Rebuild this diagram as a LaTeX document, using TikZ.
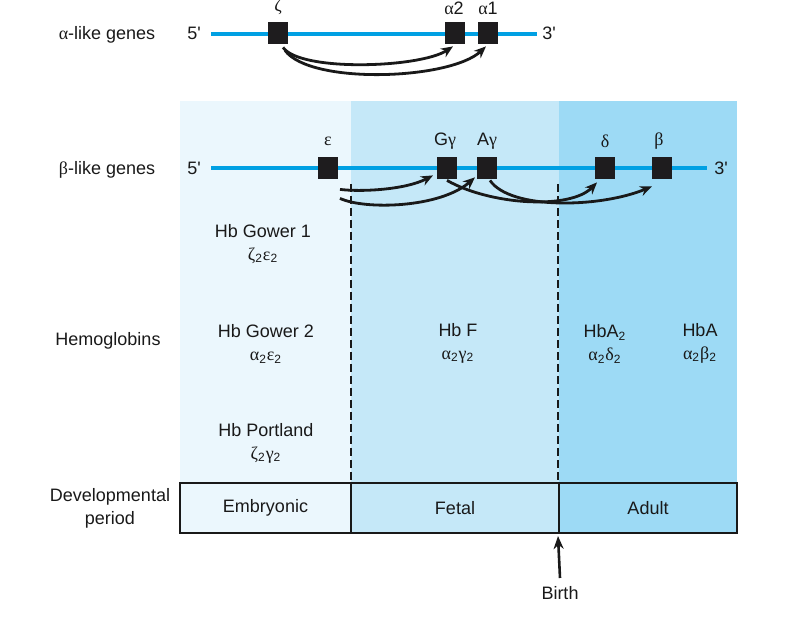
\documentclass[tikz,border=0pt]{standalone}
\usepackage{fontspec}
\setmainfont{Liberation Sans}
\newfontfamily\grk{Liberation Serif}
\usepackage{tikz}
\usetikzlibrary{arrows.meta, positioning, calc}
\definecolor{geneblue}{RGB}{0,160,227}
\definecolor{embfill}{RGB}{235,247,253}
\definecolor{fetfill}{RGB}{197,232,248}
\definecolor{adufill}{RGB}{157,218,245}
\definecolor{boxblack}{RGB}{30,28,30}
\tikzset{
  basetext/.style={font=\fontsize{9}{11.5}\selectfont,align=center,inner sep=1pt,text=black!90},
  rowlabel/.style={basetext},
  endlabel/.style={basetext},
  genelabel/.style={basetext},
  hbtext/.style={basetext},
  genebox/.style={rectangle,fill=boxblack,draw=none,minimum width=10pt,minimum height=11pt,inner sep=0pt},
  geneline/.style={line width=2pt,color=geneblue},
  genearr/.style={-{Stealth[length=6pt,width=5pt]},line width=1.4pt,color=black!90},
  divline/.style={dash pattern=on 4pt off 2pt,line width=1.4pt,color=black!90},
  periodbox/.style={basetext,rectangle,draw=black!90,line width=1pt,minimum height=25pt},
  birtharr/.style={-{Stealth[length=6.5pt,width=5pt]},line width=1.3pt,color=black!90}
}
\newcommand{\gk}[1]{{\grk #1}}

\begin{document}
\begin{tikzpicture}[x=0.5pt,y=-0.5pt]
  \useasboundingbox (0,0) rectangle (803,624);

  %% Shaded periods
  \fill[embfill] (180,101) rectangle (351,483);
  \fill[fetfill] (351,101) rectangle (559,483);
  \fill[adufill] (559,101) rectangle (737,483);

  %% Period boxes
  \node[periodbox,fill=embfill,minimum width=85.5pt] (emb) at (265.5,508) {Embryonic};
  \node[periodbox,fill=fetfill,minimum width=104pt] (fet) at (455,508) {Fetal};
  \node[periodbox,fill=adufill,minimum width=89pt] (adu) at (648,508) {Adult};

  %% Row labels
  \node[rowlabel] (alphalab) at (107,35) {\gk{α}-like genes};
  \node[rowlabel] (betalab) at (107,170) {\gk{β}-like genes};
  \node[rowlabel] (hblab) at (108,341) {Hemoglobins};
  \node[rowlabel] (devlab) at (110,508) {Developmental\\period};

  %% Alpha-like cluster
  \coordinate (aleft) at (211,34);
  \coordinate (aright) at (537,34);
  \draw[geneline] (aleft) -- (aright);
  \node[endlabel] (afive) at (194,33) {5\textquotesingle};
  \node[endlabel] (athree) at (549,33) {3\textquotesingle};
  \node[genebox] (zeta) at (278,33) {};
  \node[genebox] (alpha2) at (455,33) {};
  \node[genebox] (alpha1) at (488,33) {};
  \node[genelabel] at (278,7) {\gk{ζ}};
  \node[genelabel] at (454,8) {\gk{α}2};
  \node[genelabel] at (488,8) {\gk{α}1};

  \draw[genearr] ([shift={(5,3)}]zeta.south) .. controls (300,72) and (420,68) .. ([shift={(-2,2)}]alpha2.south);
  \draw[genearr] ([shift={(7,6)}]zeta.south) .. controls (310,85) and (450,80) .. ([shift={(-2,2)}]alpha1.south);

  %% Beta-like cluster
  \coordinate (bleft) at (211,168);
  \coordinate (bright) at (707,168);
  \draw[geneline] (bleft) -- (bright);
  \node[endlabel] (bfive) at (194,168) {5\textquotesingle};
  \node[endlabel] (bthree) at (721,168) {3\textquotesingle};
  \node[genebox] (eps) at (328,168) {};
  \node[genebox] (ggam) at (447,168) {};
  \node[genebox] (agam) at (487,168) {};
  \node[genebox] (delta) at (605,168) {};
  \node[genebox] (beta) at (662,168) {};
  \node[genelabel] at (328,141) {\gk{ε}};
  \node[genelabel] at (445,141) {G\gk{γ}};
  \node[genelabel] at (487,141) {A\gk{γ}};
  \node[genelabel] at (605,141) {\gk{δ}};
  \node[genelabel] at (659,141) {\gk{β}};

  \draw[genearr] ([shift={(12,10)}]eps.south) .. controls (360,192) and (405,190) .. ([shift={(-14,-4)}]ggam.south);
  \draw[genearr] ([shift={(12,19)}]eps.south) .. controls (365,210) and (440,208) .. ([shift={(-12,-2)}]agam.south);
  \draw[genearr] ([shift={(0,1)}]ggam.south) .. controls (490,205) and (570,210) .. ([shift={(-8,3)}]delta.south);
  \draw[genearr] ([shift={(3,1)}]agam.south) .. controls (510,210) and (600,208) .. ([shift={(-10,7)}]beta.south);

  %% Period dividers
  \draw[divline] ([shift={(1,-298)}]fet.north west) -- ([xshift=0.5pt]fet.north west);
  \draw[divline] ([yshift=149pt]adu.north west) -- (adu.north west);

  %% Hemoglobins
  \node[hbtext] (gower1) at (263,244) {Hb Gower 1\\\gk{ζ}\textsubscript{2}\gk{ε}\textsubscript{2}};
  \node[hbtext] (gower2) at (266,344) {Hb Gower 2\\\gk{α}\textsubscript{2}\gk{ε}\textsubscript{2}};
  \node[hbtext] (portland) at (266,443) {Hb Portland\\\gk{ζ}\textsubscript{2}\gk{γ}\textsubscript{2}};
  \node[hbtext] (hbf) at (458,343) {Hb F\\\gk{α}\textsubscript{2}\gk{γ}\textsubscript{2}};
  \node[hbtext] (hbatwo) at (605,344) {HbA\textsubscript{2}\\\gk{α}\textsubscript{2}\gk{δ}\textsubscript{2}};
  \node[hbtext] (hba) at (700,343) {HbA\\\gk{α}\textsubscript{2}\gk{β}\textsubscript{2}};

  %% Birth
  \node[basetext] (birth) at (560,593) {Birth};
  \draw[birtharr] ([yshift=3pt]birth.north) -- ([yshift=-1pt]adu.south west);
\end{tikzpicture}
\end{document}
